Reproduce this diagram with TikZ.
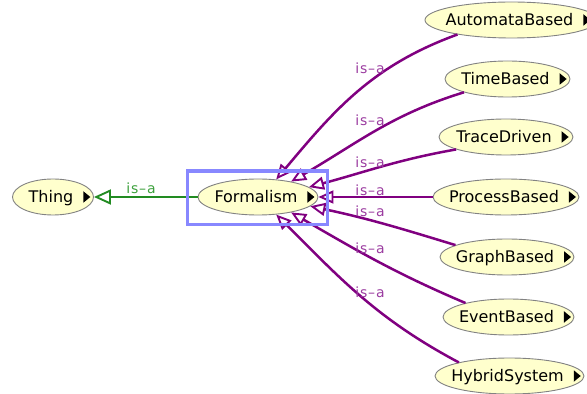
\documentclass[tikz,border=0pt]{standalone}
\usepackage{fontspec}
\setmainfont{DejaVu Sans}
\usepackage{xcolor}
\usetikzlibrary{arrows.meta,shapes.geometric}

\definecolor{classfill}{RGB}{255,255,205}
\definecolor{classline}{RGB}{130,130,130}
\definecolor{isapurple}{RGB}{128,0,128}
\definecolor{isalabel}{RGB}{155,60,160}
\definecolor{subgreen}{RGB}{34,139,34}
\definecolor{sublabel}{RGB}{60,160,60}
\definecolor{selblue}{RGB}{136,136,255}

\newcommand{\classname}[1]{\hspace{13pt}#1\hspace{10pt}\tikz\fill (0,0) -- (0,11.5pt) -- (7pt,5.75pt) -- cycle;}

\begin{document}
\begin{tikzpicture}[x=1pt,y=1pt]
\tikzset{every node/.style={font=\fontsize{16}{19}\selectfont}}
\tikzset{owlclass/.style={ellipse,draw=classline,fill=classfill,line width=0.9pt,inner sep=0pt,inner xsep=-45pt,minimum height=36pt,text height=11.5pt,text depth=0pt}}
\tikzset{isa/.style={text=isalabel,inner sep=0pt,font=\fontsize{14}{16}\selectfont\addfontfeature{LetterSpace=6}}}
\tikzset{isa edge/.style={draw=isapurple,line width=2.5pt,-{Triangle[open,length=15pt,width=13pt,line width=1.9pt]}}}
\tikzset{sub edge/.style={draw=subgreen,line width=2.5pt,-{Triangle[open,length=17pt,width=15pt,line width=1.9pt]}}}

\useasboundingbox (0,0) rectangle (587,394);

\node[owlclass,minimum width=81pt] (thing) at (53,197) {\classname{Thing}};
\node[owlclass,minimum width=120pt] (form) at (258,197) {\classname{Formalism}};

\node[owlclass,minimum width=173pt] (auto) at (511.5,374) {\classname{AutomataBased}};
\node[owlclass,minimum width=125pt] (time) at (507.5,315) {\classname{TimeBased}};
\node[owlclass,minimum width=134pt] (trace) at (506,257) {\classname{TraceDriven}};
\node[owlclass,minimum width=146pt] (proc) at (506,197) {\classname{ProcessBased}};
\node[owlclass,minimum width=134pt] (graph) at (507,137) {\classname{GraphBased}};
\node[owlclass,minimum width=131pt] (event) at (508.5,77) {\classname{EventBased}};
\node[owlclass,minimum width=149pt] (hybrid) at (509.5,18) {\classname{HybridSystem}};

\draw[isa edge] (auto.195) to[out=200,in=50] (form.44);
\draw[isa edge] (time.197) to[out=197,in=30] (form.25);
\draw[isa edge] (trace.194) to[out=190,in=15] (form.11);
\draw[isa edge] (proc.west) -- (form.east);
\draw[isa edge] (graph.167) to[out=163,in=-12] (form.-10);
\draw[isa edge] (event.162) to[out=157,in=-30] (form.-25);
\draw[isa edge] (hybrid.165) to[out=152,in=-45] (form.-44);
\draw[sub edge] (form.west) -- (thing.east);

\node[isa] (isa-auto) at (370,326) {is–a};
\node[isa] (isa-time) at (370,274) {is–a};
\node[isa] (isa-trace) at (370,232) {is–a};
\node[isa] (isa-proc) at (370,204) {is–a};
\node[isa] (isa-graph) at (370,183) {is–a};
\node[isa] (isa-event) at (370,146) {is–a};
\node[isa] (isa-hybrid) at (370,102) {is–a};
\node[isa,text=sublabel] (isa-thing) at (141,205.5) {is–a};

\node[draw=selblue,line width=3.3pt,minimum width=140pt,minimum height=53.5pt,inner sep=0pt] (sel) at (257.5,196.25) {};

\end{tikzpicture}
\end{document}
